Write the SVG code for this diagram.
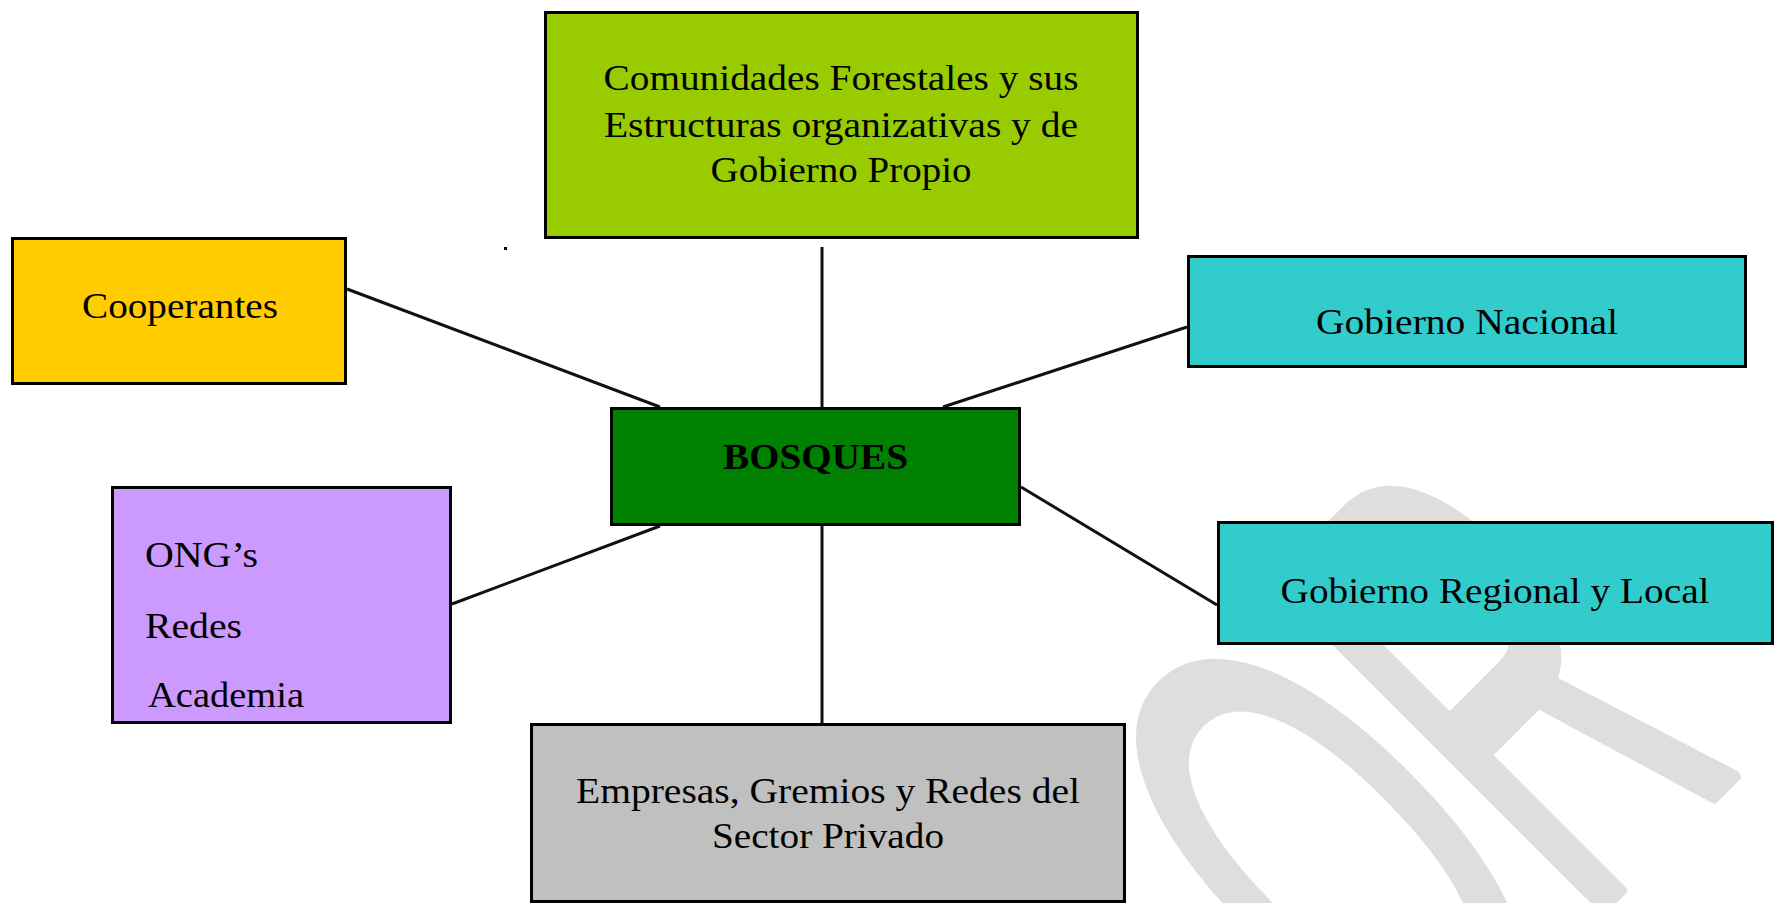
<svg xmlns="http://www.w3.org/2000/svg" width="1781" height="903" viewBox="0 0 1781 903">
<style>
.box{stroke:#000;stroke-width:3}
.t{font-family:"Liberation Serif","Times New Roman",serif;font-size:36px;fill:#000}
.c{text-anchor:middle}
.b{font-weight:bold}
.ln{stroke:#111;stroke-width:3;fill:none}
.wm{font-family:"Liberation Sans",Arial,sans-serif;font-size:670px;fill:#dedede;stroke:#dedede;stroke-width:10;stroke-linejoin:round;text-anchor:end}
</style>
<rect width="1781" height="903" fill="#fff"/>
<g id="watermark">
<text class="wm" vector-effect="non-scaling-stroke" transform="translate(1746.7,763.7) rotate(-45) scale(0.48,1)" x="0" y="0">OR</text>
</g>
<g id="connectors">
<line class="ln" x1="822" y1="247" x2="822" y2="407"/>
<line class="ln" x1="347" y1="289" x2="660" y2="407"/>
<line class="ln" x1="943" y1="407" x2="1187" y2="327"/>
<line class="ln" x1="452" y1="604" x2="660" y2="526"/>
<line class="ln" x1="822" y1="526" x2="822" y2="723"/>
<line class="ln" x1="1021" y1="487" x2="1217" y2="605"/>
</g>
<rect x="504" y="247" width="3" height="3" fill="#000"/>
<g id="comunidades">
<rect class="box" x="545.5" y="12.5" width="592" height="225" fill="#99cc00"/>
<text class="t c" x="841" y="90" textLength="475" lengthAdjust="spacingAndGlyphs">Comunidades Forestales y sus</text>
<text class="t c" x="841" y="137" textLength="474" lengthAdjust="spacingAndGlyphs">Estructuras organizativas y de</text>
<text class="t c" x="841" y="182" textLength="261" lengthAdjust="spacingAndGlyphs">Gobierno Propio</text>
</g>
<g id="cooperantes">
<rect class="box" x="12.5" y="238.5" width="333" height="145" fill="#ffcc00"/>
<text class="t c" x="180" y="318" textLength="196" lengthAdjust="spacingAndGlyphs">Cooperantes</text>
</g>
<g id="gobierno-nacional">
<rect class="box" x="1188.5" y="256.5" width="557" height="110" fill="#33cccc"/>
<text class="t c" x="1467" y="334" textLength="302" lengthAdjust="spacingAndGlyphs">Gobierno Nacional</text>
</g>
<g id="bosques">
<rect class="box" x="611.5" y="408.5" width="408" height="116" fill="#008000"/>
<text class="t c b" x="815.5" y="469" textLength="185" lengthAdjust="spacingAndGlyphs">BOSQUES</text>
</g>
<g id="ong">
<rect class="box" x="112.5" y="487.5" width="338" height="235" fill="#cc99ff"/>
<text class="t" x="145" y="567" textLength="113" lengthAdjust="spacingAndGlyphs">ONG’s</text>
<text class="t" x="145" y="638" textLength="97" lengthAdjust="spacingAndGlyphs">Redes</text>
<text class="t" x="148" y="707" textLength="156" lengthAdjust="spacingAndGlyphs">Academia</text>
</g>
<g id="empresas">
<rect class="box" x="531.5" y="724.5" width="593" height="177" fill="#c0c0c0"/>
<text class="t c" x="828" y="803" textLength="504" lengthAdjust="spacingAndGlyphs">Empresas, Gremios y Redes del</text>
<text class="t c" x="828" y="848" textLength="232" lengthAdjust="spacingAndGlyphs">Sector Privado</text>
</g>
<g id="gobierno-regional">
<rect class="box" x="1218.5" y="522.5" width="554" height="121" fill="#33cccc"/>
<text class="t c" x="1495" y="603" textLength="429" lengthAdjust="spacingAndGlyphs">Gobierno Regional y Local</text>
</g>
</svg>
